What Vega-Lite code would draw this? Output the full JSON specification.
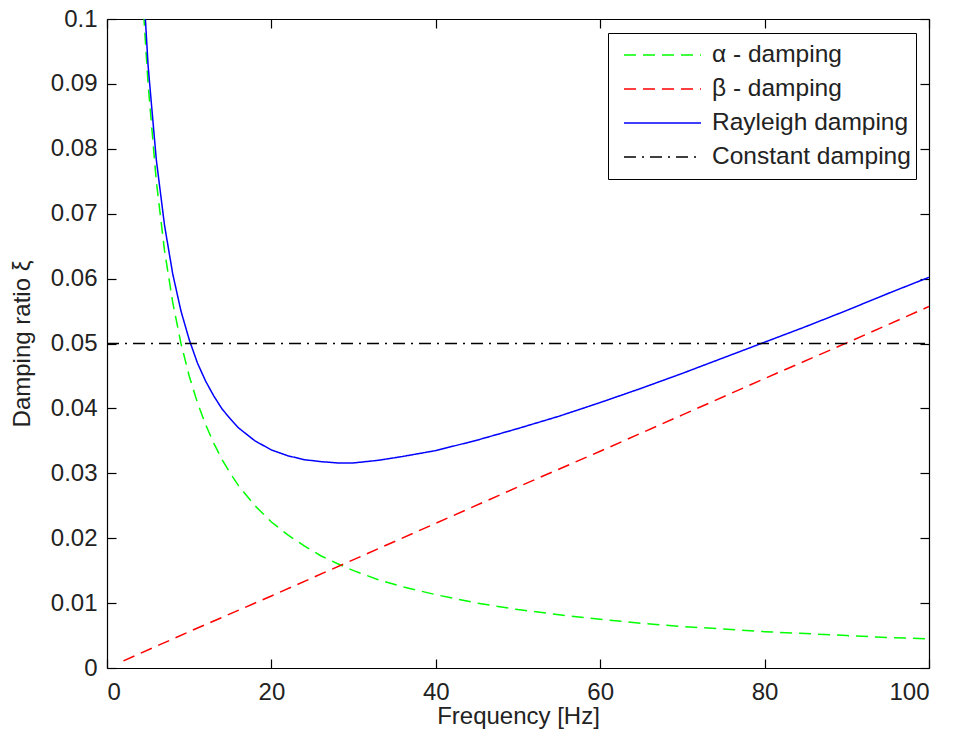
{
  "$schema": "https://vega.github.io/schema/vega-lite/v6.json",
  "width": 822,
  "height": 649,
  "autosize": {"type": "none"},
  "padding": {"left": 107, "top": 19, "right": 25, "bottom": 70},
  "background": "white",
  "config": {
    "view": {"stroke": null},
    "font": "Liberation Sans",
    "axis": {
      "domainColor": "#000000",
      "domainWidth": 1.2,
      "tickColor": "#000000",
      "tickWidth": 1.2,
      "tickSize": -9,
      "labelFont": "Liberation Sans",
      "labelFontSize": 24,
      "labelColor": "#222222",
      "titleFont": "Liberation Sans",
      "titleFontSize": 24,
      "titleFontWeight": "normal",
      "titleColor": "#222222",
      "grid": false
    }
  },
  "datasets": {
    "curves": [
      {"f": 4, "xi": 0.1125, "series": "α - damping"},
      {"f": 4.5, "xi": 0.1, "series": "α - damping"},
      {"f": 5, "xi": 0.09, "series": "α - damping"},
      {"f": 6, "xi": 0.075, "series": "α - damping"},
      {"f": 7, "xi": 0.0643, "series": "α - damping"},
      {"f": 8, "xi": 0.0563, "series": "α - damping"},
      {"f": 9, "xi": 0.05, "series": "α - damping"},
      {"f": 10, "xi": 0.045, "series": "α - damping"},
      {"f": 11, "xi": 0.0409, "series": "α - damping"},
      {"f": 12, "xi": 0.0375, "series": "α - damping"},
      {"f": 13, "xi": 0.0346, "series": "α - damping"},
      {"f": 14, "xi": 0.0321, "series": "α - damping"},
      {"f": 15, "xi": 0.03, "series": "α - damping"},
      {"f": 16, "xi": 0.0281, "series": "α - damping"},
      {"f": 18, "xi": 0.025, "series": "α - damping"},
      {"f": 20, "xi": 0.0225, "series": "α - damping"},
      {"f": 22, "xi": 0.0205, "series": "α - damping"},
      {"f": 24, "xi": 0.0188, "series": "α - damping"},
      {"f": 26, "xi": 0.0173, "series": "α - damping"},
      {"f": 28, "xi": 0.0161, "series": "α - damping"},
      {"f": 30, "xi": 0.015, "series": "α - damping"},
      {"f": 33, "xi": 0.0136, "series": "α - damping"},
      {"f": 36, "xi": 0.0125, "series": "α - damping"},
      {"f": 40, "xi": 0.0113, "series": "α - damping"},
      {"f": 45, "xi": 0.01, "series": "α - damping"},
      {"f": 50, "xi": 0.009, "series": "α - damping"},
      {"f": 55, "xi": 0.0082, "series": "α - damping"},
      {"f": 60, "xi": 0.0075, "series": "α - damping"},
      {"f": 65, "xi": 0.0069, "series": "α - damping"},
      {"f": 70, "xi": 0.0064, "series": "α - damping"},
      {"f": 75, "xi": 0.006, "series": "α - damping"},
      {"f": 80, "xi": 0.0056, "series": "α - damping"},
      {"f": 85, "xi": 0.0053, "series": "α - damping"},
      {"f": 90, "xi": 0.005, "series": "α - damping"},
      {"f": 95, "xi": 0.0047, "series": "α - damping"},
      {"f": 100, "xi": 0.0045, "series": "α - damping"},

      {"f": 2, "xi": 0.0011, "series": "β - damping"},
      {"f": 10, "xi": 0.0056, "series": "β - damping"},
      {"f": 20, "xi": 0.0111, "series": "β - damping"},
      {"f": 30, "xi": 0.0167, "series": "β - damping"},
      {"f": 40, "xi": 0.0223, "series": "β - damping"},
      {"f": 50, "xi": 0.0279, "series": "β - damping"},
      {"f": 60, "xi": 0.0334, "series": "β - damping"},
      {"f": 70, "xi": 0.039, "series": "β - damping"},
      {"f": 80, "xi": 0.0446, "series": "β - damping"},
      {"f": 90, "xi": 0.0501, "series": "β - damping"},
      {"f": 100, "xi": 0.0557, "series": "β - damping"},

      {"f": 4, "xi": 0.1147, "series": "Rayleigh damping"},
      {"f": 5, "xi": 0.0928, "series": "Rayleigh damping"},
      {"f": 6, "xi": 0.0783, "series": "Rayleigh damping"},
      {"f": 7, "xi": 0.0682, "series": "Rayleigh damping"},
      {"f": 8, "xi": 0.0607, "series": "Rayleigh damping"},
      {"f": 9, "xi": 0.055, "series": "Rayleigh damping"},
      {"f": 10, "xi": 0.0506, "series": "Rayleigh damping"},
      {"f": 11, "xi": 0.047, "series": "Rayleigh damping"},
      {"f": 12, "xi": 0.0442, "series": "Rayleigh damping"},
      {"f": 13, "xi": 0.0419, "series": "Rayleigh damping"},
      {"f": 14, "xi": 0.0399, "series": "Rayleigh damping"},
      {"f": 15, "xi": 0.0384, "series": "Rayleigh damping"},
      {"f": 16, "xi": 0.037, "series": "Rayleigh damping"},
      {"f": 18, "xi": 0.035, "series": "Rayleigh damping"},
      {"f": 20, "xi": 0.0336, "series": "Rayleigh damping"},
      {"f": 22, "xi": 0.0327, "series": "Rayleigh damping"},
      {"f": 24, "xi": 0.0321, "series": "Rayleigh damping"},
      {"f": 26, "xi": 0.0318, "series": "Rayleigh damping"},
      {"f": 28, "xi": 0.0316, "series": "Rayleigh damping"},
      {"f": 30, "xi": 0.0316, "series": "Rayleigh damping"},
      {"f": 33, "xi": 0.032, "series": "Rayleigh damping"},
      {"f": 36, "xi": 0.0326, "series": "Rayleigh damping"},
      {"f": 40, "xi": 0.0335, "series": "Rayleigh damping"},
      {"f": 45, "xi": 0.0351, "series": "Rayleigh damping"},
      {"f": 50, "xi": 0.0369, "series": "Rayleigh damping"},
      {"f": 55, "xi": 0.0388, "series": "Rayleigh damping"},
      {"f": 60, "xi": 0.0409, "series": "Rayleigh damping"},
      {"f": 65, "xi": 0.0431, "series": "Rayleigh damping"},
      {"f": 70, "xi": 0.0454, "series": "Rayleigh damping"},
      {"f": 75, "xi": 0.0478, "series": "Rayleigh damping"},
      {"f": 80, "xi": 0.0502, "series": "Rayleigh damping"},
      {"f": 85, "xi": 0.0526, "series": "Rayleigh damping"},
      {"f": 90, "xi": 0.0551, "series": "Rayleigh damping"},
      {"f": 95, "xi": 0.0577, "series": "Rayleigh damping"},
      {"f": 100, "xi": 0.0602, "series": "Rayleigh damping"},

      {"f": 0, "xi": 0.05, "series": "Constant damping"},
      {"f": 100, "xi": 0.05, "series": "Constant damping"}
    ]
  },
  "data": {"name": "curves"},
  "resolve": {"axis": {"x": "independent", "y": "independent"}},
  "layer": [
    {
      "mark": {"type": "line", "clip": true, "strokeWidth": 1.5},
      "encoding": {
        "x": {
          "field": "f", "type": "quantitative",
          "scale": {"domain": [0, 100], "nice": false, "zero": false},
          "axis": {"orient": "bottom", "values": [0, 20, 40, 60, 80, 100], "title": "Frequency [Hz]", "labelPadding": 21, "titlePadding": 0}
        },
        "y": {
          "field": "xi", "type": "quantitative",
          "scale": {"domain": [0, 0.1], "nice": false},
          "axis": {"orient": "left", "values": [0, 0.01, 0.02, 0.03, 0.04, 0.05, 0.06, 0.07, 0.08, 0.09, 0.1], "format": ".2~f", "title": "Damping ratio ξ", "labelPadding": 19, "titlePadding": 16}
        },
        "color": {
          "field": "series", "type": "nominal",
          "scale": {"domain": ["α - damping", "β - damping", "Rayleigh damping", "Constant damping"], "range": ["#00ff00", "#ff0000", "#0000ff", "#000000"]},
          "legend": {"title": null, "orient": "none", "legendX": 501, "legendY": 14, "fillColor": "white", "strokeColor": "#000000", "padding": 5, "symbolOffset": 10, "symbolType": "stroke", "symbolSize": 5929, "symbolStrokeWidth": 1.5, "labelFontSize": 24.5, "labelFont": "Liberation Sans", "labelColor": "#222222", "labelOffset": 10, "labelLimit": 400, "rowPadding": 0, "clipHeight": 34}
        },
        "strokeDash": {
          "field": "series", "type": "nominal",
          "scale": {"domain": ["α - damping", "β - damping", "Rayleigh damping", "Constant damping"], "range": [[12, 7], [12, 7], [1, 0], [12, 6, 2, 6]]},
          "legend": {"title": null, "orient": "none", "legendX": 501, "legendY": 14, "fillColor": "white", "strokeColor": "#000000", "padding": 5, "symbolOffset": 10, "symbolType": "stroke", "symbolSize": 5929, "symbolStrokeWidth": 1.5, "labelFontSize": 24.5, "labelFont": "Liberation Sans", "labelColor": "#222222", "labelOffset": 10, "labelLimit": 400, "rowPadding": 0, "clipHeight": 34}
        }
      }
    },
    {
      "mark": {"type": "point", "opacity": 0, "clip": true},
      "encoding": {
        "x": {
          "field": "f", "type": "quantitative",
          "axis": {"orient": "top", "values": [0, 20, 40, 60, 80, 100], "labels": false, "title": null}
        },
        "y": {
          "field": "xi", "type": "quantitative",
          "axis": {"orient": "right", "values": [0, 0.01, 0.02, 0.03, 0.04, 0.05, 0.06, 0.07, 0.08, 0.09, 0.1], "labels": false, "title": null}
        }
      }
    }
  ]
}
